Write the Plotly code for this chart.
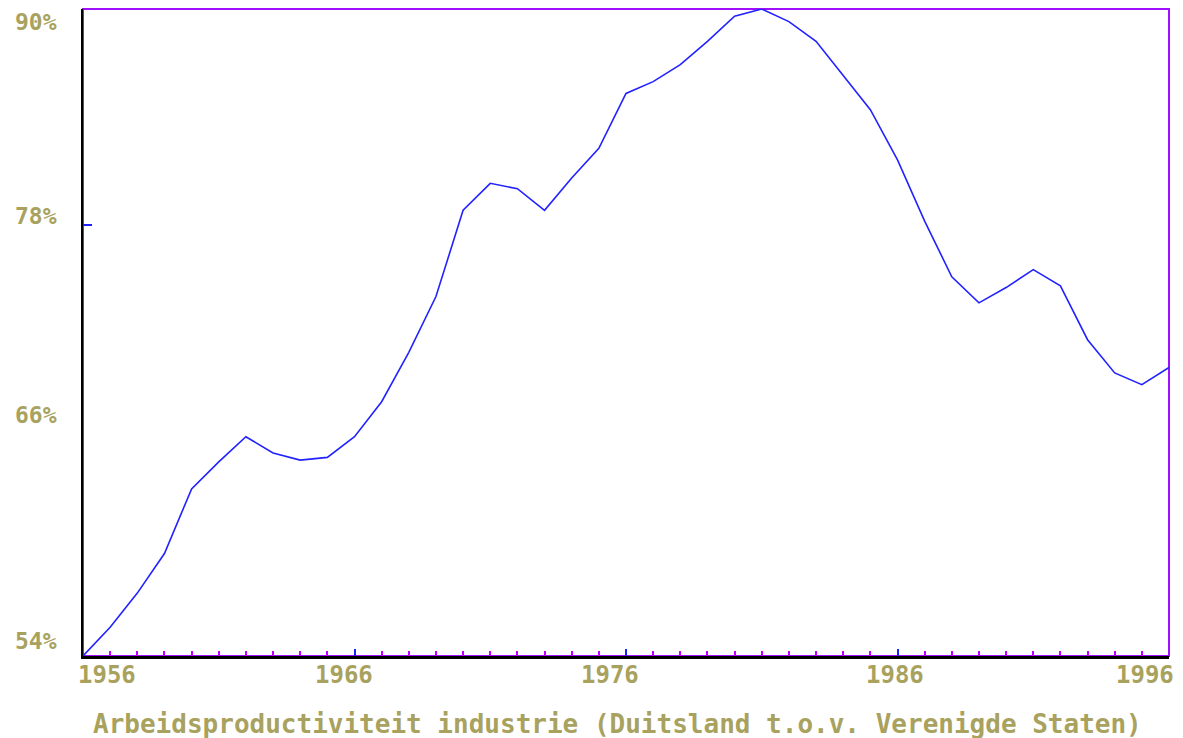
import plotly.graph_objects as go

years = list(range(1956, 1997))
values = [54.0, 55.6, 57.5, 59.7, 63.3, 64.8, 66.2, 65.3, 64.9, 65.05,
          66.2, 68.15, 70.9, 74.0, 78.8, 80.3, 80.0, 78.8, 80.6, 82.25,
          85.3, 85.96, 86.9, 88.2, 89.6, 90.0, 89.3, 88.2, 86.3, 84.4,
          81.6, 78.2, 75.1, 73.65, 74.5, 75.5, 74.6, 71.6, 69.75, 69.1, 70.05]

x_ticks = [1956, 1966, 1976, 1986, 1996]
x_labels = ["1956", "1966", "1976", "1986", "1996"]
y_ticks = [90, 78, 66, 54]
y_labels = ["90%", "78%", "66%", "54%"]
title = "Arbeidsproductiviteit industrie (Duitsland t.o.v. Verenigde Staten)"

# label pixel offsets (style)
x_shift = [24, -11, -16, -3, -24]
y_shift = [-13, 9, 25, 15]

FONT = "DejaVu Sans Mono"
TXT = "#a8a25e"

fig = go.Figure()
fig.add_trace(go.Scatter(x=years, y=values, mode="lines",
                         line=dict(color="#2222ff", width=1.6),
                         hoverinfo="skip", showlegend=False))

ann = []
for v, lab, s in zip(x_ticks, x_labels, x_shift):
    ann.append(dict(x=v, y=0, xref="x", yref="paper", text=lab, showarrow=False,
                    xanchor="center", yanchor="top", xshift=s, yshift=-3,
                    font=dict(family=FONT, size=24, color=TXT, weight="bold")))
for v, lab, s in zip(y_ticks, y_labels, y_shift):
    ann.append(dict(x=0, y=v, xref="paper", yref="y", text=lab, showarrow=False,
                    xanchor="right", yanchor="middle", xshift=-24, yshift=s,
                    font=dict(family=FONT, size=23, color=TXT, weight="bold")))
ann.append(dict(x=0, y=0, xref="paper", yref="paper", text=title, showarrow=False,
                xanchor="left", yanchor="middle", xshift=8, yshift=-68,
                font=dict(family=FONT, size=26, color=TXT, weight="bold")))

# page body has an 8px margin, so the figure is sized/offset to compensate
fig.update_layout(
    width=1175, height=730,
    margin=dict(l=75, r=14, t=1, b=82),
    paper_bgcolor="white", plot_bgcolor="white",
    annotations=ann,
    shapes=[dict(type="rect", xref="paper", yref="paper", x0=0, x1=1, y0=0, y1=1,
                 line=dict(color="#a010ff", width=2), layer="below")],
    xaxis=dict(range=[1956, 1996], showgrid=False, zeroline=False,
               showline=True, linecolor="black", linewidth=3,
               tickmode="array", tickvals=x_ticks, showticklabels=False,
               ticks="inside", ticklen=7, tickwidth=2, tickcolor="#2020ff",
               minor=dict(dtick=1, ticks="inside", ticklen=5, tickwidth=2,
                          tickcolor="#c000ff", showgrid=False)),
    yaxis=dict(range=[54, 90], showgrid=False, zeroline=False,
               showline=True, linecolor="black", linewidth=2,
               tickmode="array", tickvals=[78], showticklabels=False,
               ticks="inside", ticklen=9, tickwidth=2, tickcolor="#2020ff"),
)

fig.write_html("out.html")
